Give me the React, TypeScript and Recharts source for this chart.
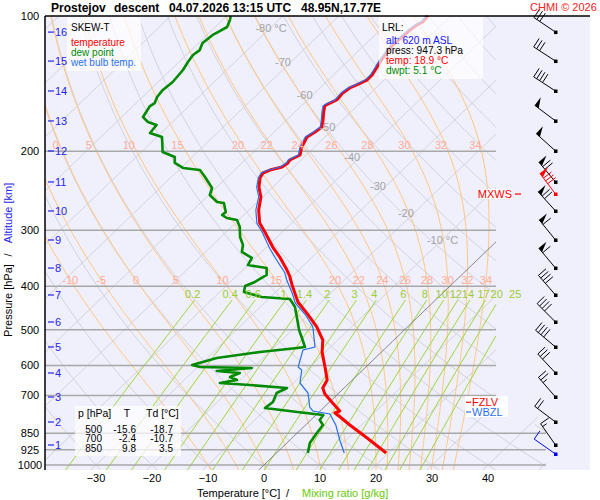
import { ComposedChart, Line, Scatter, XAxis, YAxis } from "recharts";

const FONT = "'Liberation Sans', Arial, Helvetica, sans-serif";

// plot frame: 0 °C at 1000 hPa sits at x=264, 5.6 px per °C
const T0PX = 264;
const PX_PER_C = 5.6;
const XMIN = (45 - T0PX) / PX_PER_C;
const XMAX = (590 - T0PX) / PX_PER_C;
const PTOP = 100;
const PBOT = 1026;
const SKEW = 36.2; // °C shift per ln(1000/p)

// sounding [p hPa, °C]
const temperature: [number, number][] = [
  [100.0, -54.1], [103.1, -53.9], [104.7, -54.4], [107.5, -54.7], [111.4, -54.8], [116.1, -55.0],
  [122.1, -54.5], [126.6, -54.1], [130.6, -53.6], [135.3, -53.1], [138.9, -53.1], [142.4, -54.0],
  [144.6, -54.7], [148.4, -55.0], [153.8, -54.8], [157.1, -55.6], [158.7, -55.8], [164.5, -54.7],
  [170.5, -53.5], [176.7, -52.4], [181.3, -52.7], [186.0, -53.2], [195.8, -52.3], [204.0, -51.1],
  [209.2, -52.0], [212.5, -51.8], [216.9, -52.1], [220.3, -53.7], [223.7, -54.4], [229.5, -54.0],
  [240.4, -52.5], [253.0, -50.3], [270.4, -48.3], [289.1, -45.7], [302.7, -43.1], [327.0, -38.9],
  [344.2, -35.8], [367.9, -32.1], [379.4, -30.5], [397.3, -28.4], [433.5, -24.2], [458.6, -20.6],
  [492.7, -16.2], [526.8, -12.7], [560.2, -10.6], [605.0, -7.3], [646.7, -4.5], [673.8, -3.8],
  [694.9, -2.3], [723.9, 0.4], [758.1, 3.5], [765.9, 3.0], [781.8, 4.7], [814.6, 7.9],
  [870.7, 13.4], [940.3, 19.6],
];

const dewPoint: [number, number][] = [
  [100.0, -89.3], [102.0, -88.7], [105.8, -87.9], [108.6, -88.6], [110.2, -89.0], [114.9, -89.3],
  [119.1, -88.5], [122.1, -88.8], [126.6, -88.4], [131.9, -87.8], [140.3, -87.4], [146.1, -87.7],
  [151.5, -87.4], [156.3, -86.7], [158.7, -87.0], [167.9, -86.2], [172.2, -84.4], [174.9, -82.3],
  [182.2, -82.0], [186.0, -79.1], [200.9, -76.2], [206.1, -73.1], [212.5, -72.0], [218.0, -69.6],
  [220.3, -66.2], [228.3, -64.0], [241.6, -60.7], [250.4, -59.8], [259.6, -57.2], [260.9, -55.8],
  [273.2, -53.8], [277.4, -53.9], [281.8, -52.5], [284.7, -50.3], [295.1, -48.5], [310.6, -46.6],
  [323.6, -44.6], [335.4, -43.5], [345.9, -40.6], [358.6, -40.0], [364.2, -36.1], [377.4, -34.8],
  [391.2, -35.6], [399.3, -36.6], [411.8, -35.7], [422.5, -31.6], [426.9, -26.2], [444.7, -23.8],
  [470.5, -21.4], [500.4, -18.8], [526.8, -16.3], [546.0, -14.6], [548.8, -15.8], [560.2, -21.7],
  [577.7, -28.3], [598.8, -31.4], [605.0, -29.6], [608.1, -20.2], [617.5, -25.9], [623.9, -21.4],
  [636.8, -22.4], [646.7, -20.6], [656.7, -23.1], [663.5, -17.4], [673.8, -10.2], [691.3, -11.1],
  [723.9, -10.1], [746.6, -10.4], [762.0, -3.9], [773.8, 1.3], [793.9, 1.6], [814.6, 3.1],
  [848.7, 3.5], [893.3, 4.1], [940.3, 5.6],
];

const wetBulb: [number, number][] = [
  [100.0, -54.4], [103.1, -54.2], [104.7, -54.7], [107.5, -55.0], [111.4, -55.1], [116.1, -55.3],
  [122.1, -54.8], [126.6, -54.4], [130.6, -53.9], [135.3, -53.4], [138.9, -53.4], [142.4, -54.3],
  [144.6, -55.0], [148.4, -55.3], [153.8, -55.1], [157.1, -55.9], [158.7, -56.1], [164.5, -55.0],
  [170.5, -53.8], [176.7, -52.7], [181.3, -53.0], [186.0, -53.5], [195.8, -52.6], [204.0, -51.4],
  [209.2, -52.3], [212.5, -52.1], [216.9, -52.4], [220.3, -54.0], [223.7, -54.7], [229.5, -54.3],
  [240.4, -52.9], [253.0, -50.7], [270.4, -48.8], [289.1, -46.2], [302.7, -43.6], [328.6, -39.3],
  [345.9, -36.4], [373.6, -31.9], [387.2, -30.3], [413.9, -26.9], [435.7, -24.5], [463.4, -20.4],
  [492.7, -16.9], [546.0, -12.8], [554.4, -14.4], [605.0, -12.1], [614.4, -10.9], [656.7, -8.8],
  [691.3, -5.5], [742.8, -2.6], [758.1, -1.3], [769.9, 2.3], [814.6, 5.4], [879.7, 8.9],
  [940.3, 12.1],
];

// winds [p hPa, direction °, speed kt], one per km
const winds: [number, number, number][] = [
  [108.6, 304, 30], [126.0, 303, 30], [146.9, 303, 40], [171.3, 307, 50], [199.8, 312, 50],
  [234.2, 320, 70], [271.8, 318, 70], [315.4, 321, 60], [364.2, 320, 60], [418.2, 319, 40],
  [480.3, 315, 40], [546.0, 310, 40], [623.9, 317, 30], [705.6, 319, 25], [802.1, 307, 20],
  [902.5, 325, 15],
];
const maxWind: [number, number, number][] = [[249.2, 323, 80]];
const launchWind: [number, number, number][] = [[945.2, 305, 10]];

// altitude [km, p hPa]
const kmLevels: [number, number][] = [
  [16, 108.6], [15, 126.0], [14, 146.9], [13, 171.3], [12, 199.8], [11, 234.2], [10, 271.8],
  [9, 315.4], [8, 364.2], [7, 418.2], [6, 480.3], [5, 546.0], [4, 623.9], [3, 705.6],
  [2, 802.1], [1, 902.5],
];

const pressureTicks = [100, 200, 300, 400, 500, 600, 700, 850, 925, 1000];
const pressureLines = [200, 300, 400, 500, 600, 700, 850, 925, 1000];
const tempTicks = [-30, -20, -10, 0, 10, 20, 30, 40];
const isotherms = [-120, -110, -100, -90, -80, -70, -60, -50, -40, -30, -20, -10, 10, 20, 30, 40, 50];
const dryAdiabats = [-30, -20, -10, 0, 10, 20, 30, 40, 50, 60, 70, 80, 90, 100, 110, 120, 130, 140, 150, 160, 170, 180, 190, 200];
const moistAdiabats = [-10, -5, 0, 5, 10, 15, 20, 22, 24, 26, 28, 30, 32, 34];
const mixingRatios = [0.2, 0.4, 0.6, 1, 1.4, 2, 3, 4, 6, 8, 10, 12, 14, 17, 20, 25];
const isothermLabels: [number, number][] = [
  [-80, 106.3], [-70, 126.6], [-60, 150.0], [-50, 176.7], [-40, 206.1], [-30, 239.2], [-20, 274.8], [-10, 315.4],
];
const moistLabelLevels = [193.8, 387.2];
const mixingTop = 429;
const zeroLevels: [string, number][] = [["FZLV", 725], ["WBZL", 762]];
const tableRows = [["500", "-15.6", "-18.7"], ["700", "-2.4", "-10.7"], ["850", "9.8", "3.5"]];

type Pt = { x: number; p: number };

const skx = (t: number, p: number) => t + SKEW * Math.log(1000 / p);
const xLimit = (p: number) => (p >= 805 ? (546 - T0PX) / PX_PER_C : (496 - T0PX) / PX_PER_C);
const logSteps = (n: number, from = PBOT, to = PTOP) =>
  Array.from({ length: n + 1 }, (_, i) => from * Math.pow(to / from, i / n));

function clipRuns(pts: Pt[]): Pt[][] {
  const inside = (q: Pt) => q.x >= XMIN && q.x <= xLimit(q.p);
  const cross = (a: Pt, b: Pt): Pt => {
    const lim = b.x < XMIN ? XMIN : xLimit(a.p);
    let f = (lim - a.x) / (b.x - a.x);
    f = Math.max(0, Math.min(1, f));
    const la = Math.log(a.p), lb = Math.log(b.p);
    return { x: a.x + f * (b.x - a.x), p: Math.exp(la + f * (lb - la)) };
  };
  const runs: Pt[][] = [];
  let cur: Pt[] = [];
  pts.forEach((q, i) => {
    if (inside(q)) {
      if (!cur.length && i > 0) cur.push(cross(q, pts[i - 1]));
      cur.push(q);
    } else if (cur.length) {
      cur.push(cross(pts[i - 1], q));
      runs.push(cur);
      cur = [];
    }
  });
  if (cur.length) runs.push(cur);
  return runs.filter((r) => r.length > 1);
}

function moistCurve(thw: number): Pt[] {
  const f = (T: number, p: number) => {
    const tc = T - 273.15;
    const es = 6.112 * Math.exp((17.67 * tc) / (tc + 243.5));
    const rs = (0.622 * es) / (p - es);
    const num = 287.04 * T + 2.501e6 * rs;
    const den = 1005.7 + (2.501e6 * 2.501e6 * rs * 0.622) / (287.04 * T * T);
    return num / den / p;
  };
  const step = (T: number, p: number, dp: number) => {
    const k1 = f(T, p);
    const k2 = f(T + (k1 * dp) / 2, p + dp / 2);
    const k3 = f(T + (k2 * dp) / 2, p + dp / 2);
    const k4 = f(T + k3 * dp, p + dp);
    return T + (dp * (k1 + 2 * k2 + 2 * k3 + k4)) / 6;
  };
  let T = thw + 273.15;
  const out: Pt[] = [{ x: skx(step(T, 1000, PBOT - 1000) - 273.15, PBOT), p: PBOT }, { x: thw, p: 1000 }];
  for (let i = 1; i <= 180; i++) {
    const p = 1000 - (i - 1) * 5;
    T = step(T, p, -5);
    out.push({ x: skx(T - 273.15, p - 5), p: p - 5 });
  }
  return out;
}

const interpAt = (pts: Pt[], p: number) => {
  for (let i = 1; i < pts.length; i++) {
    const a = pts[i - 1], b = pts[i];
    if ((a.p - p) * (b.p - p) <= 0) {
      const f = (Math.log(p) - Math.log(a.p)) / (Math.log(b.p) - Math.log(a.p));
      return a.x + f * (b.x - a.x);
    }
  }
  return pts[pts.length - 1].x;
};

const isoLines = isotherms.flatMap((t) => clipRuns(logSteps(60).map((p) => ({ x: skx(t, p), p }))));
const zeroLine = clipRuns(logSteps(60).map((p) => ({ x: skx(0, p), p })));
const dryLines = dryAdiabats.flatMap((th) =>
  clipRuns(logSteps(60).map((p) => ({ x: skx((th + 273.15) * Math.pow(p / 1000, 0.2857) - 273.15, p), p })))
);
const moistCurves = moistAdiabats.map((th) => ({ th, pts: moistCurve(th) }));
const moistLines = moistCurves.flatMap((c) => clipRuns(c.pts));
const mixLine = (w: number) =>
  logSteps(24, PBOT, mixingTop).map((p) => {
    const L = Math.log((w * p) / (622 + w) / 6.112);
    return { x: skx((243.5 * L) / (17.67 - L), p), p };
  });
const mixLines = mixingRatios.flatMap((w) => clipRuns(mixLine(w)));
const presLines = pressureLines.map((p) => [{ x: XMIN, p }, { x: xLimit(p), p }]);

const moistLabelPts = moistCurves.flatMap((c) =>
  moistLabelLevels
    .map((p) => ({ x: interpAt(c.pts, p) - (p < 300 ? 0.8 : 0), p, label: String(c.th) }))
    .filter((d) => d.x > XMIN + 0.9 && d.x < xLimit(d.p))
);
const mixLabelPts = mixingRatios.map((w) => {
  const pts = mixLine(w);
  return { ...pts[pts.length - 1], label: String(w) };
});
const isoLabelPts = isothermLabels.map(([t, p]) => ({ x: skx(t, p), p, label: t === -80 || t === -10 ? `${t} °C` : String(t), unit: t === -80 || t === -10 }));

const BARB_X = (555.5 - T0PX) / PX_PER_C;
const toWind = (w: [number, number, number]) => ({ x: BARB_X, p: w[0], dir: w[1], spd: w[2] });
const profile = (rows: [number, number][]) => rows.map(([p, t]) => ({ x: skx(t, p), p }));

const barbShape = (color: string) => (props: any) => {
  const { cx, cy, payload } = props;
  const a = (payload.dir * Math.PI) / 180;
  const ux = Math.sin(a), uy = -Math.cos(a);
  const vx = -uy, vy = ux;
  const L = 26;
  const ex = cx + ux * L, ey = cy + uy * L;
  const at = (d: number) => [ex - ux * d, ey - uy * d];
  const parts: any[] = [];
  let rest = Math.round(payload.spd / 5) * 5;
  let s = 0;
  let k = 0;
  while (rest >= 50) {
    const [x1, y1] = at(s);
    const [x2, y2] = at(s + 5);
    parts.push(<polygon key={k++} points={`${x1},${y1} ${x2},${y2} ${x1 + vx * 10},${y1 + vy * 10}`} fill={color} />);
    s += 6;
    rest -= 50;
  }
  while (rest >= 10) {
    const [x1, y1] = at(s);
    parts.push(<line key={k++} x1={x1} y1={y1} x2={x1 + vx * 10} y2={y1 + vy * 10} stroke={color} strokeWidth={1} />);
    s += 3.5;
    rest -= 10;
  }
  if (rest >= 5) {
    const [x1, y1] = at(s === 0 ? 3.5 : s);
    parts.push(<line key={k++} x1={x1} y1={y1} x2={x1 + vx * 5} y2={y1 + vy * 5} stroke={color} strokeWidth={1} />);
  }
  return (
    <g>
      <line x1={cx} y1={cy} x2={ex} y2={ey} stroke={color} strokeWidth={1} />
      {parts}
      <rect x={cx - 1.5} y={cy - 1.5} width={3.5} height={3.5} fill={color} />
    </g>
  );
};

const textShape = (color: string, dx: number, dy: number, anchor: "start" | "middle" | "end", size = 11) => (props: any) => (
  <text x={props.cx + dx} y={props.cy + dy} fill={color} fontSize={size} textAnchor={anchor} fontFamily={FONT}>
    {props.payload.label}
  </text>
);

const isoLabelShape = (props: any) => (
  <text x={props.cx + (props.payload.unit ? -15 : -8)} y={props.cy + 4} fill="#a2a2a2" fontSize={11}
    textAnchor={props.payload.unit ? "start" : "middle"} fontFamily={FONT}>
    {props.payload.label}
  </text>
);

const kmShape = (props: any) => (
  <g>
    <line x1={props.cx} y1={props.cy} x2={props.cx + 6} y2={props.cy} stroke="#2424ee" strokeWidth={1.2} />
    <text x={props.cx + 7} y={props.cy + 4} fill="#2424ee" fontSize={11} fontFamily={FONT}>{props.payload.label}</text>
  </g>
);

const zeroShape = (props: any) => {
  const c = props.payload.label === "FZLV" ? "#ff0000" : "#2a6ff0";
  return (
    <g>
      <rect x={props.cx - 1} y={props.cy - 6} width={43} height={11} fill="#ffffff" />
      <line x1={props.cx} y1={props.cy} x2={props.cx + 5} y2={props.cy} stroke={c} strokeWidth={1.2} />
      <text x={props.cx + 6} y={props.cy + 4} fill={c} fontSize={11} fontFamily={FONT}>{props.payload.label}</text>
    </g>
  );
};

const mxwsShape = (props: any) => (
  <g>
    <rect x={props.cx - 39} y={props.cy - 5} width={30} height={10} fill="#ffffff" />
    <text x={props.cx - 9} y={props.cy + 4} fill="#ff0000" fontSize={11} textAnchor="end" fontFamily={FONT}>MXWS</text>
    <line x1={props.cx - 6} y1={props.cy} x2={props.cx} y2={props.cy} stroke="#ff0000" strokeWidth={1.2} />
  </g>
);

const XTick = (props: any) => (
  <text x={props.x} y={482} textAnchor="middle" fontSize={11} fontFamily={FONT} fill="#000">
    {String(props.payload.value).replace("-", "\u2212")}
  </text>
);
const YTick = (props: any) => (
  <text x={30} y={props.y + 4} textAnchor="middle" fontSize={11} fontFamily={FONT} fill="#000">
    {props.payload.value}
  </text>
);

const gridLine = (data: Pt[], key: string, stroke: string, width = 1) => (
  <Line key={key} data={data} dataKey="p" stroke={stroke} strokeWidth={width} dot={false} activeDot={false}
    isAnimationActive={false} legendType="none" />
);

export default function App() {
  return (
    <div style={{ position: "absolute", left: 0, top: 0, width: 600, height: 500, background: "#fff", fontFamily: FONT }}>
      <div style={{ position: "absolute", left: 45, top: 16, width: 545, height: 454, background: "#f0f0fd" }} />
      <div style={{ position: "absolute", left: 0, top: 0 }}>
        <ComposedChart width={600} height={500} margin={{ top: 16, right: 10, bottom: 0, left: 0 }}>
          <XAxis type="number" dataKey="x" domain={[XMIN, XMAX]} ticks={tempTicks} interval={0} height={30}
            axisLine={false} tickLine={false} tick={XTick} />
          <YAxis type="number" dataKey="p" scale="log" domain={[PTOP, PBOT]} reversed ticks={pressureTicks}
            interval={0} width={45} axisLine={false} tickLine={false} tick={YTick} />
          {isoLines.map((d, i) => gridLine(d, `iso${i}`, "#d3d3db"))}
          {dryLines.map((d, i) => gridLine(d, `dry${i}`, "#d3d3db"))}
          {moistLines.map((d, i) => gridLine(d, `moist${i}`, "#ffc680"))}
          {mixLines.map((d, i) => gridLine(d, `mix${i}`, "#9fd43a"))}
          {presLines.map((d, i) => gridLine(d, `pres${i}`, "#a8a8a8", 1.5))}
          {zeroLine.map((d, i) => gridLine(d, `zero${i}`, "#6a6a6a", 0.8))}
          <Scatter data={isoLabelPts} shape={isoLabelShape} isAnimationActive={false} legendType="none" />
          <Scatter data={moistLabelPts} shape={textShape("#ffab96", 0, 4, "middle")} isAnimationActive={false} legendType="none" />
          <Scatter data={mixLabelPts} shape={textShape("#9ccc2e", -2, -2, "middle")} isAnimationActive={false} legendType="none" />
          <Scatter data={kmLevels.map(([km, p]) => ({ x: (48 - T0PX) / PX_PER_C, p, label: String(km) }))}
            shape={kmShape} isAnimationActive={false} legendType="none" />
          <Scatter data={zeroLevels.map(([label, p]) => ({ x: (466 - T0PX) / PX_PER_C, p, label }))}
            shape={zeroShape} isAnimationActive={false} legendType="none" />
          <Scatter data={maxWind.map((w) => ({ x: (521 - T0PX) / PX_PER_C, p: w[0] }))}
            shape={mxwsShape} isAnimationActive={false} legendType="none" />
          <Line data={profile(dewPoint)} dataKey="p" stroke="#008a00" strokeWidth={2.6} dot={false} activeDot={false}
            isAnimationActive={false} legendType="none" strokeLinejoin="round" />
          <Line data={profile(temperature)} dataKey="p" stroke="#ff0000" strokeWidth={3} dot={false} activeDot={false}
            isAnimationActive={false} legendType="none" strokeLinejoin="round" />
          <Line data={profile(wetBulb)} dataKey="p" stroke="#2a6ff0" strokeWidth={1.2} dot={false} activeDot={false}
            isAnimationActive={false} legendType="none" />
          <Scatter data={winds.map(toWind)} shape={barbShape("#000000")} isAnimationActive={false} legendType="none" />
          <Scatter data={maxWind.map(toWind)} shape={barbShape("#ff0000")} isAnimationActive={false} legendType="none" />
          <Scatter data={launchWind.map(toWind)} shape={barbShape("#0000ee")} isAnimationActive={false} legendType="none" />
        </ComposedChart>
      </div>
      <svg width={600} height={500} style={{ position: "absolute", left: 0, top: 0, pointerEvents: "none" }} fontFamily={FONT}>
        <line x1={45} y1={16} x2={590} y2={16} stroke="#000" strokeWidth={1.5} />
        <line x1={45} y1={16} x2={45} y2={470} stroke="#000" strokeWidth={1.5} />
        <g fontWeight="bold" fontSize={12} fill="#000">
          <text x={51} y={11.5}>Prostejov</text>
          <text x={114} y={11.5}>descent</text>
          <text x={169} y={11.5}>04.07.2026 13:15 UTC</text>
          <text x={301} y={11.5}>48.95N,17.77E</text>
        </g>
        <text x={530} y={11} fontSize={11} fill="#ff2020">CHMI © 2026</text>

        <rect x={67} y={17} width={74} height={54} fill="#fff" fillOpacity={0.72} />
        <g fontSize={10}>
          <text x={71} y={30.5} fill="#000">SKEW-T</text>
          <text x={71} y={45.5} fill="#ff0000">temperature</text>
          <text x={71} y={55.5} fill="#008a00">dew point</text>
          <text x={71} y={65.5} fill="#2a6ff0">wet bulb temp.</text>
        </g>

        <rect x={379} y={17} width={104} height={62} fill="#fff" fillOpacity={0.68} />
        <g fontSize={10.2}>
          <text x={382} y={31} fill="#000">LRL:</text>
          <text x={386} y={44} fill="#1414ff">alt: 620 m ASL</text>
          <text x={386} y={54} fill="#000">press: 947.3 hPa</text>
          <text x={386} y={64} fill="#ff0000">temp: 18.9 °C</text>
          <text x={386} y={74} fill="#008a00">dwpt: 5.1 °C</text>
        </g>

        <rect x={75} y={406} width={106} height={50} fill="#fff" fillOpacity={0.72} />
        <g fontSize={10.5} fill="#000">
          <text x={78} y={417}>p [hPa]</text>
          <text x={127} y={417} textAnchor="middle">T</text>
          <text x={146} y={417}>Td [°C]</text>
        </g>
        <g fontSize={10} fill="#000" textAnchor="end">
          {tableRows.map((r, i) => (
            <g key={i}>
              <text x={102} y={432.5 + i * 9.5}>{r[0]}</text>
              <text x={136} y={432.5 + i * 9.5}>{r[1]}</text>
              <text x={173} y={432.5 + i * 9.5}>{r[2]}</text>
            </g>
          ))}
        </g>

        <g fontSize={11}>
          <text x={197} y={497} fill="#000">Temperature [°C]</text>
          <text x={286} y={497} fill="#000">/</text>
          <text x={302} y={497} fill="#66cc00">Mixing ratio [g/kg]</text>
        </g>
        <g fontSize={11} textAnchor="middle">
          <text transform="translate(12,300.5) rotate(-90)" fill="#000">Pressure [hPa]</text>
          <text transform="translate(12,255) rotate(-90)" fill="#000">/</text>
          <text transform="translate(12,213) rotate(-90)" fill="#2424ee">Altitude [km]</text>
        </g>
      </svg>
    </div>
  );
}
